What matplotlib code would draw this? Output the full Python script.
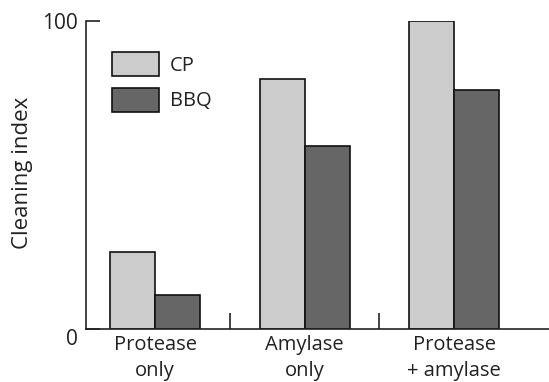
import matplotlib.pyplot as plt
import numpy as np

categories = ['Protease\nonly', 'Amylase\nonly', 'Protease\n+ amylase']
cp = [25, 81, 100]
bbq = [11, 59.5, 77.5]
series_labels = ['CP', 'BBQ']

plt.rcParams['font.family'] = ['Open Sans', 'DejaVu Sans']

fig = plt.figure(figsize=(5.49, 3.82), dpi=100)
ax = fig.add_axes([86 / 549, 53 / 382, 1 - 86 / 549, (329 - 20.7) / 382])

x = np.arange(len(categories))
w = 0.3
ax.bar(x - w / 2, cp, w, color='#cccccc', edgecolor='#111111', linewidth=1.2, label=series_labels[0])
ax.bar(x + w / 2, bbq, w, color='#666666', edgecolor='#111111', linewidth=1.2, label=series_labels[1])

ax.set_xlim(-0.463, 2.634)
ax.set_ylim(0, 100)
ax.spines['top'].set_visible(False)
ax.spines['right'].set_visible(False)
for s in ['left', 'bottom']:
    ax.spines[s].set_linewidth(1.2)
    ax.spines[s].set_color('#222222')

ax.set_yticks([0, 100])
ax.set_yticklabels(['0', '100'], fontsize=15, color='#222222')
ax.tick_params(axis='y', direction='in', length=10, width=1.2, pad=6, color='#222222')
ax.get_yticklabels()[0].set_verticalalignment('top')

ax.set_xticks(x)
ax.set_xticklabels(categories, fontsize=14.5, color='#222222', linespacing=1.4)
ax.tick_params(axis='x', length=0, pad=4)
ax.set_xticks([0.5, 1.5], minor=True)
ax.tick_params(axis='x', which='minor', direction='in', length=11.5, width=1.2, color='#222222')

ax.set_ylabel('Cleaning index', fontsize=16, color='#222222')
ax.yaxis.set_label_coords(-0.114, 0.508)

ax.legend(loc='upper left', bbox_to_anchor=(0.038, 0.925), frameon=False, fontsize=14.5,
          handlelength=2.35, handleheight=1.5, labelspacing=0.55, handletextpad=0.55,
          borderaxespad=0, labelcolor='#222222')

fig.savefig('out.png', dpi=100)
